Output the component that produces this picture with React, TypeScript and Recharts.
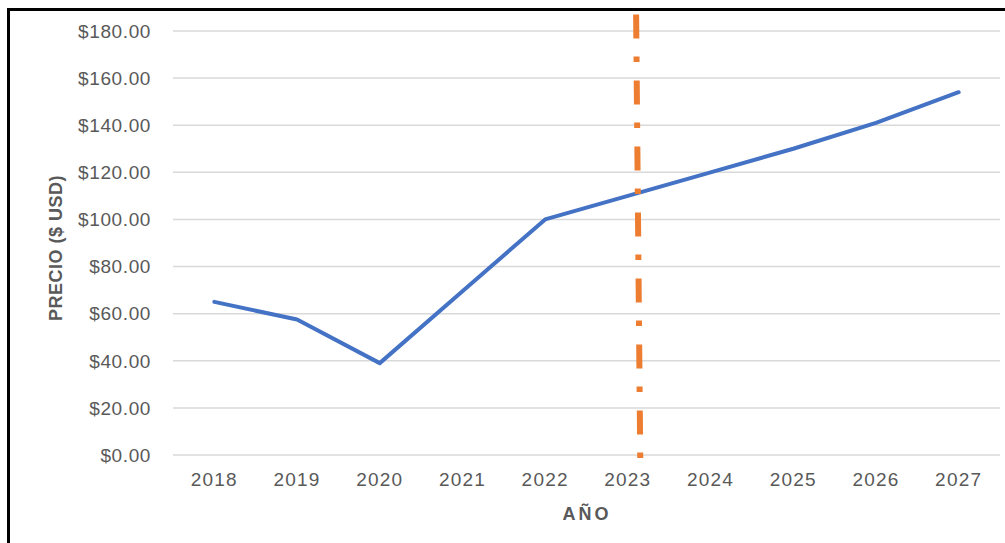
import React from "react";
import {
  LineChart,
  Line,
  XAxis,
  YAxis,
  CartesianGrid,
  ReferenceLine,
  Label,
} from "recharts";

const years = [2018, 2019, 2020, 2021, 2022, 2023, 2024, 2025, 2026, 2027];
const prices = [65, 57.5, 39, 69.5, 100, 110, 120, 130, 141, 154];
const yTicks = [0, 20, 40, 60, 80, 100, 120, 140, 160, 180];
const yAxisTitle = "PRECIO ($ USD)";
const xAxisTitle = "AÑO";
const markerYear = [2023.1, 2023.15];
const markerSpan = [187, -2];

const data = years.map((year, i) => ({ year, price: prices[i] }));

const FONT = '"Liberation Sans", Arial, sans-serif';
const TEXT = "#595959";

export default function App() {
  return (
    <div
      style={{
        position: "absolute",
        left: 0,
        top: 0,
        width: 1005,
        height: 543,
        background: "#fff",
        overflow: "hidden",
      }}
    >
      <div
        style={{
          position: "absolute",
          left: 7,
          top: 8,
          width: 998,
          height: 535,
          boxSizing: "border-box",
          borderTop: "3px solid #000",
          borderLeft: "3px solid #000",
        }}
      />
      <div style={{ position: "absolute", left: 0, top: 0 }}>
        <LineChart
          width={1005}
          height={543}
          data={data}
          margin={{ top: 31, right: 5, bottom: 58, left: 0 }}
        >
          <CartesianGrid vertical={false} stroke="#D9D9D9" strokeWidth={1.5} />
          <XAxis
            dataKey="year"
            type="number"
            domain={[2017.5, 2027.5]}
            ticks={years}
            interval={0}
            height={30}
            axisLine={false}
            tickLine={false}
            tickSize={0}
            tickMargin={18}
            tick={{ fill: TEXT, fontSize: 19, fontFamily: FONT, letterSpacing: 1.2 }}
          >
            <Label
              content={() => (
                <text
                  x={587}
                  y={520}
                  textAnchor="middle"
                  fill={TEXT}
                  fontFamily={FONT}
                  fontWeight="bold"
                  fontSize={18}
                  letterSpacing={3}
                >
                  {xAxisTitle}
                </text>
              )}
            />
          </XAxis>
          <YAxis
            type="number"
            domain={[0, 180]}
            ticks={yTicks}
            width={173}
            axisLine={false}
            tickLine={false}
            tickSize={0}
            tickMargin={22}
            tickFormatter={(v: number) => `$${v.toFixed(2)}`}
            tick={{ fill: TEXT, fontSize: 19, fontFamily: FONT, letterSpacing: 0.6 }}
          >
            <Label
              content={() => (
                <text
                  transform="translate(62, 248) rotate(-90)"
                  x={0}
                  y={0}
                  textAnchor="middle"
                  fill={TEXT}
                  fontFamily={FONT}
                  fontWeight="bold"
                  fontSize={18}
                  letterSpacing={0.5}
                >
                  {yAxisTitle}
                </text>
              )}
            />
          </YAxis>
          <Line
            type="linear"
            dataKey="price"
            stroke="#4472C4"
            strokeWidth={4}
            dot={false}
            activeDot={false}
            strokeLinecap="round"
            strokeLinejoin="round"
            isAnimationActive={false}
          />
          <ReferenceLine
            segment={[
              { x: markerYear[0], y: markerSpan[0] },
              { x: markerYear[1], y: markerSpan[1] },
            ]}
            ifOverflow="visible"
            stroke="#ED7D31"
            strokeWidth={6}
            strokeDasharray="24 18 5.5 18.5"
          />
        </LineChart>
      </div>
    </div>
  );
}
